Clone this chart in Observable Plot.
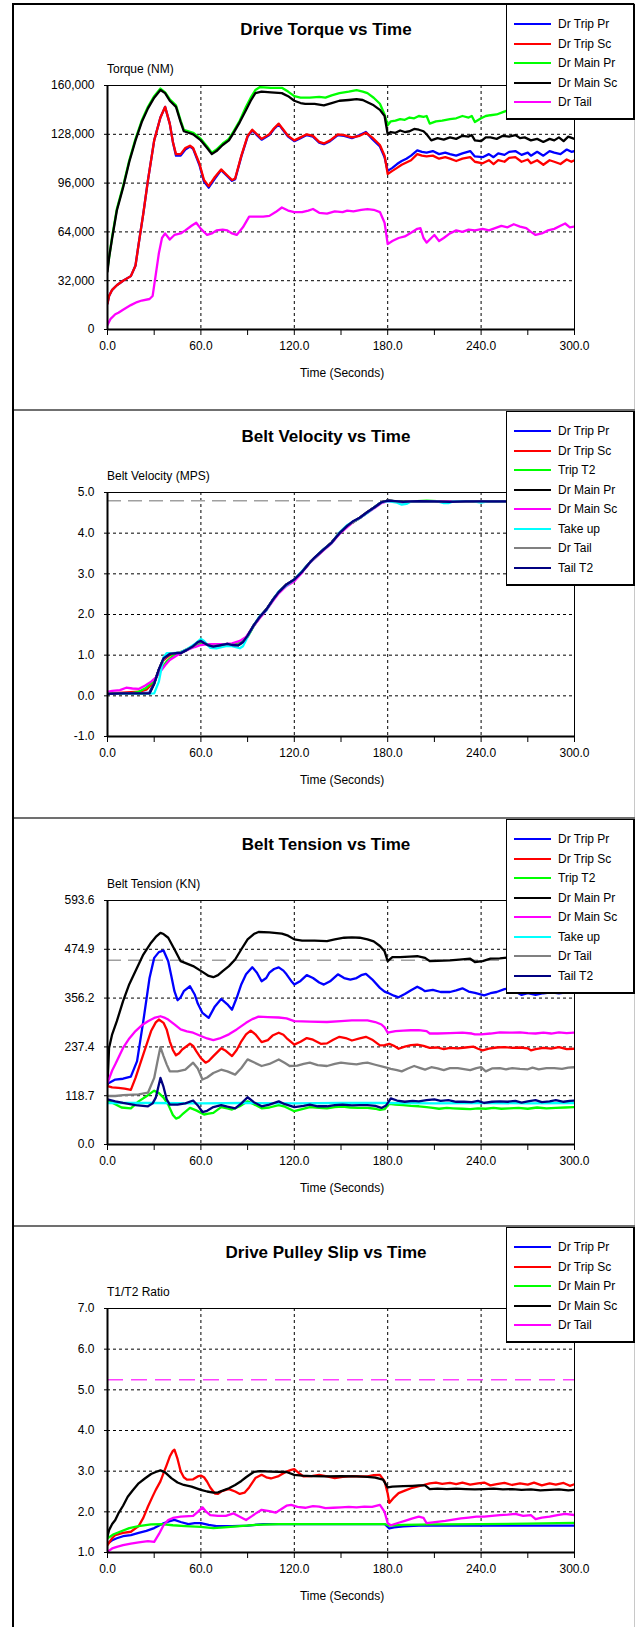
<!DOCTYPE html>
<html>
<head>
<meta charset="utf-8">
<script src="https://cdn.jsdelivr.net/npm/d3@7"></script>
<script src="https://cdn.jsdelivr.net/npm/@observablehq/plot@0.6"></script>
<style>
  html, body { margin: 0; padding: 0; background: #fff; }
  #page { position: relative; width: 639px; height: 1627px; overflow: hidden; font-family: "Liberation Sans", Arial, sans-serif; color: #000; }
  .abs { position: absolute; }
  .title { font-size: 17px; font-weight: bold; text-align: center; line-height: 20px; white-space: nowrap; }
  .lbl { font-size: 12px; line-height: 14px; white-space: nowrap; }
  .legend { background: #fff; border: 1px solid #000; border-right-width: 2px; border-bottom-width: 2px; box-sizing: border-box; z-index: 5; }
  .legend .row { position: absolute; left: 0; height: 14px; width: 100%; }
  .legend .sw { position: absolute; left: 7px; top: 6px; width: 37px; height: 2px; }
  .legend .tx { position: absolute; left: 51px; top: 0; font-size: 12px; line-height: 14px; white-space: nowrap; }
  svg { overflow: visible; }
</style>
</head>
<body>
<div id="page"></div>
<script>
// ---------------- Panel 1: Drive Torque vs Time (NM) ----------------
const torqueTicks = [0, 32000, 64000, 96000, 128000, 160000];
const torqueNames = ["Dr Trip Pr", "Dr Trip Sc", "Dr Main Pr", "Dr Main Sc", "Dr Tail"];
const torqueColors = ["#0000ff", "#ff0000", "#00ff00", "#000000", "#ff00ff"];
const torqueTripPr = [[0,17000],[1,22000],[3,26000],[6,29000],[10,32000],[15,35000],[18,42000],[20,56000],[23,76000],[26,98000],[30,124000],[34,139000],[37,146000],[40,135000],[42,123000],[44,114000],[47,114000],[50,118000],[53,120000],[55,118500],[59,108000],[62,97000],[65,93000],[69,99000],[73,104500],[77,100500],[80,97500],[82,98500],[86,113500],[90,126500],[93,130500],[96,127500],[99,124500],[104,127500],[107,131500],[110,134500],[113,130500],[116,126500],[120,123500],[124,125500],[128,127500],[132,126500],[136,122500],[139,121500],[143,123500],[148,127500],[152,127000],[157,125500],[162,127500],[166,129500],[170,125000],[175,120000],[178,113000],[180,104000],[183,106000],[186,108500],[189,110500],[192,112000],[195,114000],[199,117500],[202,116500],[205,116000],[209,117000],[213,115000],[217,116000],[220,115000],[224,114000],[228,115500],[233,117000],[236,113500],[241,113000],[245,115000],[248,113000],[251,115500],[255,114500],[258,116500],[262,117000],[266,114500],[270,116000],[272,114000],[276,116500],[280,114000],[284,117000],[287,116000],[291,115000],[295,118000],[298,116500],[300,117000]];
const torqueTripSc = [[0,17000],[1,22000],[3,26000],[6,29000],[10,32000],[15,35000],[18,42000],[20,56000],[23,76000],[26,98000],[30,124000],[34,139000],[37,146000],[40,135000],[42,123000],[44,115000],[47,115000],[50,119000],[53,120500],[55,119000],[59,109000],[62,98000],[65,94000],[69,100000],[73,105000],[77,101000],[80,98000],[82,99000],[86,114000],[90,127000],[93,131000],[96,128000],[99,125000],[104,128000],[107,132000],[110,135000],[113,131000],[116,127000],[120,124000],[124,126000],[128,128000],[132,127000],[136,123000],[139,122000],[143,124000],[148,128000],[152,127500],[157,126000],[162,127000],[166,129000],[170,126000],[175,121000],[178,114000],[180,102000],[183,104000],[186,106000],[189,108000],[192,109500],[195,111000],[199,115000],[202,114000],[205,113500],[209,114000],[213,112000],[217,113000],[220,112000],[224,110500],[228,112000],[233,113000],[236,110000],[241,109000],[245,111000],[248,108500],[251,111000],[255,110000],[258,112500],[262,113000],[266,110000],[270,111500],[272,109000],[276,111000],[280,108000],[284,111000],[287,110000],[291,108500],[295,111500],[298,110000],[300,111000]];
const torqueMainPr = [[0,40000],[1,47000],[3,61000],[6,79000],[10,94000],[14,111000],[18,125000],[22,137000],[26,146000],[30,153000],[34,158000],[37,155500],[40,151000],[44,147000],[47,137000],[49,131000],[52,130000],[55,129000],[60,125000],[64,120000],[67,116000],[70,118000],[74,122000],[78,125000],[81,130000],[85,137000],[89,146000],[92,152000],[95,157000],[98,159000],[105,158500],[112,158500],[116,156000],[120,153000],[124,152000],[130,152000],[136,152500],[140,152000],[144,153500],[149,155000],[155,156000],[160,157000],[164,156000],[167,155000],[171,152000],[175,148000],[178,141000],[180,134000],[182,136500],[185,137000],[188,138000],[191,137500],[194,139000],[197,138500],[200,140000],[203,139500],[205,140000],[207,135000],[211,136500],[215,137000],[220,138000],[224,138500],[228,140000],[232,139000],[234,140000],[236,136000],[240,138500],[243,140000],[246,140500],[250,141000],[254,142500],[258,144000],[262,143000],[266,145000],[270,146000],[275,145500],[280,147000],[285,146500],[290,148000],[295,147500],[300,149000]];
const torqueMainSc = [[0,38000],[1,47000],[3,60000],[6,78000],[10,93000],[14,110000],[18,124000],[22,136000],[26,145000],[30,152000],[34,157000],[37,155000],[40,150000],[44,146000],[47,136000],[49,130000],[52,129000],[55,128000],[60,124000],[64,119000],[67,115000],[70,117000],[74,121000],[78,124000],[81,129000],[85,136000],[89,144000],[92,150000],[95,155000],[99,156000],[105,155500],[112,155000],[116,153000],[120,150000],[124,148500],[127,148000],[133,148000],[139,147000],[144,148500],[149,150000],[155,150500],[160,151000],[164,150500],[167,149000],[171,147000],[175,144000],[178,140000],[180,128000],[182,129500],[185,129000],[188,130500],[191,129500],[194,130000],[197,131500],[200,131000],[203,130000],[205,128000],[208,124000],[212,125500],[216,124500],[220,126000],[224,125000],[228,127000],[232,126500],[234,127500],[236,124000],[240,123500],[243,126000],[246,126000],[250,125000],[254,127000],[258,126500],[262,127500],[265,125500],[268,126000],[272,124000],[276,125000],[280,123000],[284,125000],[287,124000],[290,126000],[293,123500],[296,126500],[300,125000]];
const torqueTail = [[0,3000],[2,7000],[5,10000],[7,11000],[10,13000],[15,16000],[19,18000],[22,19000],[27,20000],[29,22000],[31,36000],[33,50000],[35,60000],[37,63000],[40,59000],[43,62000],[47,63000],[50,65000],[54,68000],[57,70000],[60,66000],[64,62000],[67,63000],[70,65000],[74,65500],[77,65000],[80,63000],[83,62000],[87,67000],[91,74000],[96,74000],[100,74000],[104,74500],[108,77000],[112,80000],[116,78000],[120,77000],[125,77000],[129,78000],[132,79000],[136,76500],[141,76000],[146,77500],[151,77000],[154,78000],[158,77500],[163,78500],[167,79000],[171,78500],[175,77000],[178,70000],[180,56000],[183,58000],[187,60000],[191,61000],[195,63500],[199,66000],[201,66500],[203,60000],[205,57000],[208,60000],[210,62000],[213,58000],[216,60000],[220,63000],[224,65000],[228,64000],[232,65500],[236,65000],[241,66000],[245,65000],[249,66500],[253,68000],[257,67000],[261,69000],[265,67500],[269,66500],[272,64000],[275,62000],[279,63000],[283,65000],[287,66000],[291,68000],[294,69500],[297,67000],[300,67500]];

// ---------------- Panel 2: Belt Velocity vs Time (MPS) ----------------
const velTicks = [-1, 0, 1, 2, 3, 4, 5];
const velRef = 4.8;
const velNames = ["Dr Trip Pr", "Dr Trip Sc", "Trip T2", "Dr Main Pr", "Dr Main Sc", "Take up", "Dr Tail", "Tail T2"];
const velColors = ["#0000ff", "#ff0000", "#00ff00", "#000000", "#ff00ff", "#00ffff", "#808080", "#000080"];
const velTripPr = [[0,0.05],[10,0.06],[20,0.07],[27,0.08],[30,0.32],[33,0.64],[36,0.9],[40,1.02],[44,1.05],[48,1.08],[52,1.15],[56,1.24],[60,1.33],[63,1.28],[67,1.23],[72,1.24],[77,1.27],[82,1.25],[86,1.3],[90,1.47],[94,1.73],[98,1.95],[102,2.12],[106,2.35],[110,2.55],[115,2.73],[120,2.85],[125,3.05],[130,3.28],[138,3.57],[144,3.77],[149,4.0],[154,4.18],[162,4.37],[167,4.51],[172,4.65],[176,4.76],[180,4.8],[190,4.77],[200,4.79],[220,4.77],[240,4.78],[260,4.78],[300,4.78]];
const velTripSc = [[0,0.06],[10,0.08],[20,0.1],[25,0.15],[30,0.35],[33,0.63],[36,0.88],[40,1.0],[44,1.05],[48,1.09],[52,1.16],[56,1.24],[60,1.31],[63,1.28],[67,1.24],[72,1.25],[77,1.27],[82,1.26],[86,1.31],[90,1.47],[94,1.73],[98,1.94],[102,2.11],[106,2.34],[110,2.55],[115,2.72],[120,2.85],[125,3.05],[130,3.28],[138,3.57],[144,3.77],[149,4.0],[154,4.18],[162,4.37],[167,4.51],[172,4.65],[176,4.76],[180,4.8],[190,4.76],[200,4.79],[220,4.77],[240,4.78],[260,4.78],[300,4.78]];
const velTripT2 = [[0,0.05],[15,0.06],[20,0.1],[25,0.2],[30,0.38],[34,0.62],[38,0.85],[42,0.98],[46,1.06],[50,1.12],[55,1.22],[60,1.3],[65,1.25],[70,1.23],[75,1.24],[80,1.24],[85,1.3],[90,1.45],[94,1.72],[98,1.94],[102,2.12],[106,2.34],[110,2.55],[115,2.73],[120,2.85],[125,3.05],[130,3.28],[138,3.56],[144,3.77],[149,4.0],[154,4.18],[162,4.37],[167,4.51],[172,4.65],[176,4.76],[180,4.8],[190,4.77],[205,4.8],[215,4.78],[240,4.77],[260,4.78],[300,4.78]];
const velMainPr = [[0,0.05],[10,0.06],[20,0.06],[27,0.07],[30,0.3],[33,0.65],[36,0.92],[40,1.03],[44,1.05],[47,1.05],[51,1.13],[55,1.22],[58,1.32],[60,1.35],[62,1.3],[65,1.24],[68,1.21],[72,1.24],[77,1.28],[80,1.25],[84,1.24],[87,1.32],[90,1.48],[94,1.74],[98,1.95],[102,2.12],[106,2.35],[110,2.55],[115,2.74],[120,2.86],[125,3.05],[130,3.28],[138,3.57],[144,3.77],[149,4.0],[154,4.18],[162,4.38],[167,4.52],[172,4.65],[176,4.76],[180,4.8],[190,4.77],[200,4.79],[220,4.77],[240,4.78],[300,4.78]];
const velMainSc = [[0,0.1],[3,0.12],[8,0.14],[12,0.2],[16,0.18],[20,0.17],[24,0.25],[28,0.35],[31,0.45],[34,0.6],[37,0.75],[40,0.88],[44,0.98],[48,1.07],[52,1.14],[56,1.2],[60,1.25],[65,1.27],[70,1.27],[75,1.27],[80,1.29],[85,1.35],[89,1.45],[94,1.72],[98,1.92],[102,2.1],[106,2.32],[110,2.52],[115,2.7],[120,2.82],[125,3.03],[130,3.27],[138,3.55],[144,3.75],[149,3.98],[154,4.15],[158,4.28],[162,4.37],[167,4.5],[172,4.63],[176,4.74],[180,4.79],[185,4.78],[190,4.75],[195,4.79],[200,4.78],[300,4.78]];
const velTakeup = [[0,0.05],[10,0.05],[20,0.05],[30,0.06],[33,0.35],[36,0.95],[38,1.05],[42,1.05],[47,1.07],[52,1.17],[57,1.3],[60,1.4],[62,1.35],[66,1.18],[70,1.17],[76,1.22],[80,1.22],[85,1.17],[87,1.22],[90,1.45],[94,1.74],[98,1.97],[102,2.1],[106,2.35],[110,2.57],[115,2.72],[120,2.86],[125,3.07],[130,3.28],[138,3.58],[144,3.76],[149,4.02],[154,4.2],[162,4.37],[167,4.5],[172,4.65],[176,4.76],[180,4.79],[186,4.75],[189,4.7],[192,4.72],[195,4.78],[205,4.79],[212,4.78],[216,4.74],[219,4.74],[222,4.78],[235,4.78],[240,4.75],[245,4.79],[260,4.78],[300,4.78]];
const velTail = [[0,0.05],[10,0.06],[20,0.06],[27,0.07],[30,0.31],[33,0.64],[36,0.91],[40,1.03],[44,1.05],[48,1.07],[52,1.15],[56,1.24],[60,1.34],[63,1.28],[67,1.22],[72,1.24],[77,1.28],[82,1.24],[86,1.29],[90,1.47],[94,1.74],[98,1.95],[102,2.12],[106,2.35],[110,2.55],[115,2.74],[120,2.86],[125,3.05],[130,3.28],[138,3.57],[144,3.77],[149,4.0],[154,4.18],[162,4.38],[167,4.52],[172,4.65],[176,4.76],[180,4.8],[190,4.77],[200,4.79],[220,4.77],[240,4.78],[300,4.78]];
const velTailT2 = [[0,0.05],[10,0.06],[20,0.06],[27,0.06],[30,0.3],[33,0.65],[36,0.92],[40,1.03],[44,1.05],[47,1.05],[51,1.13],[55,1.22],[58,1.32],[60,1.35],[62,1.3],[65,1.24],[68,1.21],[72,1.24],[77,1.28],[80,1.25],[84,1.24],[87,1.32],[90,1.48],[94,1.74],[98,1.95],[102,2.12],[106,2.35],[110,2.55],[115,2.74],[120,2.86],[125,3.05],[130,3.28],[133,3.4],[138,3.57],[144,3.77],[149,4.0],[154,4.18],[158,4.3],[162,4.38],[167,4.52],[172,4.65],[176,4.76],[180,4.8],[185,4.79],[190,4.77],[195,4.78],[200,4.79],[210,4.78],[220,4.77],[230,4.78],[240,4.78],[250,4.78],[260,4.78],[270,4.78],[280,4.78],[290,4.78],[300,4.78]];

// ---------------- Panel 3: Belt Tension vs Time (KN) ----------------
const tenTicks = [0.0, 118.7, 237.4, 356.2, 474.9, 593.6];
const tenRef = 448;
const tenNames = ["Dr Trip Pr", "Dr Trip Sc", "Trip T2", "Dr Main Pr", "Dr Main Sc", "Take up", "Dr Tail", "Tail T2"];
const tenColors = ["#0000ff", "#ff0000", "#00ff00", "#000000", "#ff00ff", "#00ffff", "#808080", "#000080"];
const tenTripPr = [[0,148],[5,158],[10,160],[15,165],[19,203],[23,300],[27,405],[30,454],[33,468],[36,472],[39,446],[41,410],[43,373],[45,351],[47,358],[49,373],[53,385],[56,365],[58,343],[61,320],[65,308],[69,336],[73,354],[77,341],[80,328],[83,357],[86,390],[89,414],[93,431],[96,418],[99,397],[102,405],[104,418],[107,427],[110,431],[113,423],[115,414],[118,398],[120,389],[124,398],[128,412],[132,405],[136,394],[139,389],[143,397],[148,414],[152,405],[156,401],[160,405],[163,412],[166,415],[170,402],[175,381],[178,372],[180,369],[184,362],[187,358],[191,366],[195,375],[199,384],[202,378],[204,373],[209,376],[214,371],[220,371],[224,375],[228,380],[232,372],[236,369],[242,363],[246,368],[250,371],[255,378],[258,380],[262,372],[266,364],[270,368],[275,364],[280,368],[285,370],[290,368],[295,370],[300,369]];
const tenTripSc = [[0,142],[3,139],[7,138],[11,136],[15,133],[18,162],[23,219],[28,276],[31,297],[33,304],[36,296],[38,280],[40,251],[42,230],[44,217],[46,222],[48,231],[53,245],[55,240],[57,227],[60,210],[63,199],[65,203],[68,215],[73,234],[76,228],[80,215],[83,230],[86,251],[89,268],[92,277],[95,268],[99,249],[103,254],[106,265],[110,272],[113,267],[115,259],[120,243],[124,250],[128,259],[132,255],[137,245],[141,246],[145,255],[149,262],[153,259],[157,253],[162,258],[166,262],[170,255],[175,241],[178,242],[181,245],[184,240],[187,233],[191,238],[195,242],[199,243],[203,240],[207,235],[212,236],[216,232],[220,235],[225,234],[230,236],[235,238],[238,233],[241,229],[245,233],[250,236],[255,237],[260,235],[265,236],[270,234],[272,229],[275,232],[280,235],[285,233],[290,237],[295,232],[300,233]];
const tenTripT2 = [[0,107],[4,100],[9,90],[15,88],[20,105],[26,120],[30,131],[33,125],[36,114],[39,97],[42,72],[44,63],[46,66],[48,73],[53,89],[57,83],[62,73],[65,75],[68,77],[73,91],[77,88],[80,85],[85,93],[90,105],[94,98],[99,88],[104,90],[110,96],[114,92],[120,81],[125,86],[130,91],[136,89],[141,88],[146,91],[151,92],[156,90],[161,89],[167,89],[172,87],[175,84],[178,86],[181,99],[185,97],[190,96],[195,94],[200,93],[205,91],[209,89],[213,87],[218,89],[222,88],[228,87],[233,86],[238,88],[243,87],[248,89],[253,87],[258,88],[264,89],[270,87],[276,90],[282,88],[288,89],[294,90],[300,91]];
const tenMainPr = [[0,146],[1,235],[3,268],[6,300],[10,349],[14,390],[18,422],[23,462],[28,491],[31,505],[34,515],[36,512],[39,503],[43,475],[47,446],[51,440],[55,434],[61,420],[65,410],[68,407],[71,412],[74,422],[78,434],[82,450],[86,475],[90,499],[94,512],[97,517],[104,516],[112,513],[116,508],[120,499],[125,496],[133,496],[141,495],[146,499],[152,503],[157,504],[162,503],[167,499],[171,494],[175,483],[178,470],[180,446],[183,456],[188,456],[194,457],[199,458],[204,454],[207,446],[212,447],[220,448],[226,450],[233,452],[236,444],[241,446],[246,452],[252,453],[258,455],[265,456],[270,452],[280,455],[290,454],[300,456]];
const tenMainSc = [[0,150],[3,180],[5,195],[10,235],[14,258],[18,276],[22,290],[26,300],[30,308],[34,312],[37,308],[39,304],[43,292],[47,280],[51,275],[55,272],[60,264],[64,258],[68,254],[72,258],[78,268],[83,280],[89,296],[93,305],[97,311],[103,310],[110,309],[115,307],[120,300],[130,299],[141,298],[150,300],[157,302],[167,302],[172,298],[176,292],[178,285],[180,272],[185,276],[190,277],[195,278],[200,278],[205,276],[207,270],[212,270],[220,271],[228,272],[234,270],[236,268],[240,268],[246,270],[252,273],[260,272],[265,273],[270,271],[275,270],[280,272],[285,270],[290,273],[295,271],[300,272]];
const tenTakeup = [[0,101],[30,101],[60,100],[90,101],[120,100],[150,101],[180,101],[210,100],[240,101],[270,100],[300,101]];
const tenTail = [[0,118],[5,118],[10,120],[20,122],[26,126],[30,162],[32,200],[34,237],[36,215],[38,195],[40,178],[45,178],[50,182],[55,199],[58,185],[61,158],[64,163],[68,174],[73,182],[77,178],[82,170],[86,186],[90,207],[94,200],[99,191],[104,196],[110,207],[114,198],[117,191],[122,192],[126,196],[130,199],[135,193],[141,191],[146,196],[150,199],[155,197],[160,195],[164,198],[167,199],[172,194],[178,188],[182,184],[186,181],[189,178],[193,185],[197,191],[201,186],[204,182],[208,188],[212,185],[216,181],[220,186],[225,186],[230,183],[233,181],[237,186],[240,188],[243,178],[247,185],[252,186],[256,183],[260,186],[265,184],[270,183],[273,187],[277,183],[282,186],[287,186],[292,184],[296,187],[300,188]];
const tenTailT2 = [[0,110],[5,105],[10,101],[18,96],[26,93],[29,100],[31,114],[34,162],[36,140],[38,110],[40,97],[45,97],[50,100],[55,107],[58,95],[61,79],[64,82],[68,91],[73,96],[77,92],[82,88],[86,100],[90,115],[94,103],[99,93],[104,97],[110,105],[114,98],[120,91],[126,94],[130,97],[135,93],[141,93],[146,96],[151,97],[157,95],[162,96],[167,96],[172,94],[176,89],[179,95],[182,112],[186,107],[191,104],[196,106],[200,105],[205,108],[210,110],[214,106],[219,108],[224,104],[229,104],[234,103],[238,106],[242,101],[247,104],[252,105],[257,104],[262,106],[266,102],[270,105],[275,108],[279,103],[284,105],[288,108],[293,104],[297,106],[300,107]];

// ---------------- Panel 4: Drive Pulley Slip vs Time (T1/T2) ----------------
const slipTicks = [1, 2, 3, 4, 5, 6, 7];
const slipRef = 5.25;
const slipNames = ["Dr Trip Pr", "Dr Trip Sc", "Dr Main Pr", "Dr Main Sc", "Dr Tail"];
const slipColors = ["#0000ff", "#ff0000", "#00ff00", "#000000", "#ff00ff"];
const slipTripPr = [[0,1.22],[3,1.3],[6,1.35],[10,1.4],[15,1.43],[20,1.48],[25,1.53],[30,1.6],[36,1.72],[40,1.77],[43,1.8],[47,1.75],[52,1.7],[56,1.72],[60,1.72],[65,1.68],[70,1.65],[80,1.65],[90,1.66],[100,1.7],[120,1.7],[150,1.7],[178,1.7],[181,1.59],[184,1.62],[190,1.64],[200,1.66],[220,1.66],[250,1.66],[280,1.66],[300,1.66]];
const slipTripSc = [[0,1.18],[3,1.35],[5,1.43],[10,1.48],[15,1.51],[20,1.65],[23,1.85],[26,2.13],[29,2.38],[31,2.54],[34,2.75],[36,2.95],[38,3.15],[40,3.36],[42,3.5],[43,3.53],[45,3.3],[47,3.0],[49,2.85],[51,2.79],[55,2.8],[58,2.87],[60,2.89],[62,2.85],[64,2.74],[66,2.6],[69,2.45],[71,2.44],[73,2.5],[76,2.54],[78,2.56],[82,2.5],[85,2.44],[88,2.47],[91,2.6],[95,2.83],[99,2.91],[102,2.85],[105,2.82],[110,2.88],[115,2.99],[118,3.03],[120,3.05],[123,2.95],[126,2.87],[131,2.88],[136,2.91],[141,2.87],[146,2.83],[151,2.86],[157,2.88],[162,2.87],[167,2.87],[171,2.9],[175,2.91],[178,2.75],[180,2.45],[181,2.22],[184,2.35],[187,2.46],[191,2.52],[195,2.58],[200,2.63],[203,2.66],[207,2.7],[211,2.72],[215,2.69],[220,2.71],[224,2.68],[228,2.72],[233,2.67],[238,2.7],[242,2.72],[246,2.65],[250,2.68],[255,2.71],[260,2.66],[265,2.7],[270,2.67],[274,2.72],[279,2.65],[284,2.7],[288,2.67],[293,2.71],[297,2.64],[300,2.68]];
const slipMainPr = [[0,1.35],[4,1.45],[8,1.51],[14,1.6],[20,1.65],[28,1.69],[35,1.7],[42,1.67],[50,1.65],[60,1.63],[68,1.6],[75,1.62],[85,1.65],[95,1.68],[110,1.7],[130,1.7],[150,1.7],[178,1.7],[181,1.66],[190,1.68],[210,1.69],[240,1.7],[270,1.71],[300,1.73]];
const slipMainSc = [[0,1.4],[1,1.55],[3,1.7],[5,1.8],[7,1.96],[10,2.15],[13,2.37],[16,2.52],[20,2.7],[24,2.82],[28,2.93],[31,2.98],[34,3.02],[37,2.97],[41,2.83],[45,2.72],[49,2.66],[54,2.62],[60,2.54],[64,2.5],[68,2.47],[71,2.48],[74,2.52],[78,2.58],[82,2.66],[86,2.76],[89,2.85],[92,2.93],[94,2.98],[98,3.0],[105,2.99],[115,2.98],[120,2.91],[125,2.89],[131,2.88],[140,2.87],[150,2.88],[160,2.87],[167,2.86],[172,2.84],[177,2.79],[180,2.6],[183,2.62],[190,2.63],[196,2.64],[200,2.65],[204,2.65],[207,2.56],[212,2.57],[218,2.56],[224,2.57],[230,2.56],[236,2.55],[242,2.56],[248,2.57],[254,2.55],[260,2.56],[266,2.54],[272,2.55],[278,2.53],[284,2.54],[290,2.55],[296,2.53],[300,2.54]];
const slipTail = [[0,1.02],[3,1.1],[6,1.14],[10,1.18],[15,1.22],[20,1.25],[26,1.28],[30,1.26],[33,1.45],[36,1.67],[39,1.8],[42,1.85],[47,1.88],[55,1.9],[58,2.0],[61,2.11],[63,2.02],[66,1.92],[71,1.9],[76,1.9],[81,1.96],[85,1.88],[89,1.8],[93,1.9],[96,1.98],[99,2.05],[104,2.02],[108,1.98],[111,2.05],[115,2.15],[118,2.17],[122,2.12],[127,2.1],[132,2.14],[136,2.13],[140,2.09],[145,2.1],[150,2.11],[155,2.12],[160,2.11],[165,2.13],[170,2.12],[175,2.17],[178,2.0],[180,1.72],[182,1.67],[186,1.72],[191,1.78],[196,1.84],[200,1.88],[203,1.85],[205,1.72],[209,1.74],[213,1.76],[217,1.78],[222,1.81],[227,1.84],[232,1.86],[237,1.88],[242,1.88],[247,1.9],[252,1.92],[257,1.93],[262,1.95],[267,1.9],[272,1.92],[275,1.82],[279,1.86],[284,1.88],[289,1.92],[294,1.95],[300,1.92]];

const xTicks = [0, 30, 60, 90, 120, 150, 180, 210, 240, 270, 300];
const xGrid = [60, 120, 180, 240];

// ---------------- build ----------------
const panels = [
  {top: 3, title: "Drive Torque vs Time", ylabel: "Torque (NM)", ticks: torqueTicks, fmt: d3.format(",.0f"),
   ref: null, names: torqueNames, colors: torqueColors,
   series: [torqueTripPr, torqueTripSc, torqueMainPr, torqueMainSc, torqueTail]},
  {top: 410, title: "Belt Velocity vs Time", ylabel: "Belt Velocity (MPS)", ticks: velTicks, fmt: d => d.toFixed(1),
   ref: {v: velRef, c: "#a0a0a0", dash: "14,7"}, names: velNames, colors: velColors,
   series: [velTripPr, velTripSc, velTripT2, velMainPr, velMainSc, velTakeup, velTail, velTailT2]},
  {top: 818, title: "Belt Tension vs Time", ylabel: "Belt Tension (KN)", ticks: tenTicks, fmt: d => d.toFixed(1),
   ref: {v: tenRef, c: "#a0a0a0", dash: "14,7"}, names: tenNames, colors: tenColors,
   series: [tenTripPr, tenTripSc, tenTripT2, tenMainPr, tenMainSc, tenTakeup, tenTail, tenTailT2]},
  {top: 1226, title: "Drive Pulley Slip vs Time", ylabel: "T1/T2 Ratio", ticks: slipTicks, fmt: d => d.toFixed(1),
   ref: {v: slipRef, c: "#ff40ff", dash: "16,8"}, names: slipNames, colors: slipColors,
   series: [slipTripPr, slipTripSc, slipMainPr, slipMainSc, slipTail]}
];

const page = document.getElementById("page");
function el(cls, style, text) {
  const d = document.createElement("div");
  d.className = cls;
  Object.assign(d.style, style);
  if (text != null) d.textContent = text;
  page.appendChild(d);
  return d;
}

const H = 407;
for (const p of panels) {
  const ymin = p.ticks[0], ymax = p.ticks[p.ticks.length - 1];
  const lineMarks = p.series.map((s, i) =>
    Plot.line(s.map(([t, v]) => ({t, v})), {x: "t", y: "v", stroke: p.colors[i], strokeWidth: 2.3, clip: true}));
  const marks = [
    Plot.ruleY(p.ticks.slice(1, -1), {stroke: "#000", strokeWidth: 1, strokeDasharray: "3,3"}),
    Plot.ruleX(xGrid, {stroke: "#000", strokeWidth: 1, strokeDasharray: "3,3"}),
  ];
  if (p.ref) marks.push(Plot.ruleY([p.ref.v], {stroke: p.ref.c, strokeWidth: 1.5, strokeDasharray: p.ref.dash}));
  marks.push(...lineMarks);
  marks.push(
    Plot.frame({stroke: "#000", strokeWidth: 1}),
    Plot.ruleX([0], {stroke: "#000", strokeWidth: 2}),
    Plot.ruleY([ymin], {stroke: "#000", strokeWidth: 2}),
    Plot.axisX({ticks: xTicks, tickFormat: d => d % 60 === 0 ? d.toFixed(1) : "", tickSize: 6, tickPadding: 6, label: null}),
    Plot.axisY({ticks: p.ticks, tickFormat: p.fmt, tickSize: 3, tickPadding: 10, label: null})
  );
  const svg = Plot.plot({
    width: 639, height: H,
    marginLeft: 107, marginRight: 65, marginTop: 82, marginBottom: 81,
    x: {domain: [0, 300]},
    y: {domain: [ymin, ymax]},
    style: {fontFamily: '"Liberation Sans", Arial, sans-serif', fontSize: "12px", background: "transparent", color: "#000"},
    marks
  });
  svg.style.position = "absolute";
  svg.style.left = "0px";
  svg.style.top = p.top + "px";
  page.appendChild(svg);

  el("abs title", {left: "13px", width: "626px", top: (p.top + 17) + "px"}, p.title);
  el("abs lbl", {left: "107px", top: (p.top + 59) + "px"}, p.ylabel);
  el("abs lbl", {left: "242px", width: "200px", textAlign: "center", top: (p.top + 363) + "px"}, "Time (Seconds)");

  const n = p.names.length;
  const lg = el("abs legend", {left: "506px", top: (p.top + 1) + "px", width: "129px", height: (20 + 19.5 * (n - 1) + 18) + "px"});
  p.names.forEach((name, i) => {
    const row = document.createElement("div");
    row.className = "row";
    row.style.top = Math.round(12 + 19.5 * i) + "px";
    const sw = document.createElement("div");
    sw.className = "sw";
    sw.style.background = p.colors[i];
    const tx = document.createElement("div");
    tx.className = "tx";
    tx.textContent = name;
    row.appendChild(sw); row.appendChild(tx);
    lg.appendChild(row);
  });
}

// outer frame lines
el("abs", {left: "12px", top: "3px", width: "2px", height: "1624px", background: "#000", zIndex: 6});
el("abs", {left: "12px", top: "3px", width: "623px", height: "2px", background: "#000", zIndex: 4});
el("abs", {left: "634px", top: "3px", width: "1px", height: "1624px", background: "#c8c8c8", zIndex: 4});
for (const y of [409, 817, 1225]) {
  el("abs", {left: "12px", top: y + "px", width: "623px", height: "2px", background: "#707070", zIndex: 4});
}
</script>
</body>
</html>
